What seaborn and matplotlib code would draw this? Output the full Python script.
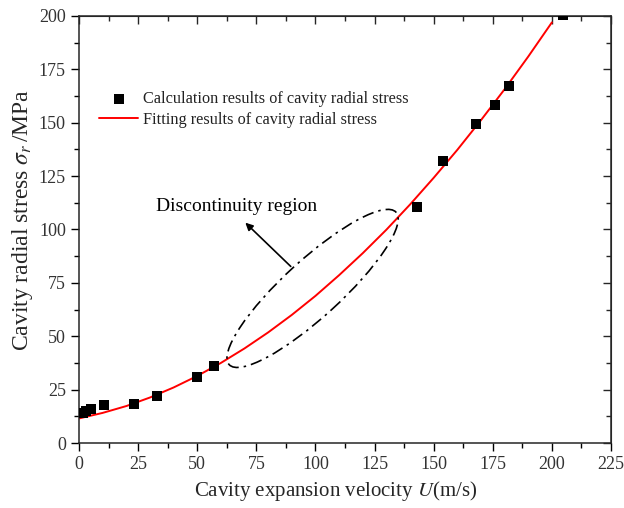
import numpy as np
import pandas as pd
import matplotlib
matplotlib.use("Agg")
import matplotlib.pyplot as plt
import seaborn as sns
from matplotlib.patches import Ellipse
from matplotlib.transforms import ScaledTranslation
from matplotlib.ticker import MultipleLocator

# ---- data ----
calc_u = [1.5, 3.0, 4.9, 10.7, 23.1, 33.0, 49.9, 57.0, 143.1, 153.8, 168.1, 176.1, 181.9, 204.9]
calc_s = [14.0, 15.0, 15.8, 17.8, 18.1, 22.0, 30.8, 36.1, 110.4, 132.2, 149.3, 158.5, 167.3, 200.5]

fit_u = [0, 10, 20, 30, 40, 50, 60, 70, 80, 90, 100, 110, 120, 130, 140, 150, 160, 170, 180, 190, 200]
fit_s = [11.5, 14.1, 17.3, 21.3, 26.0, 31.4, 37.5, 44.3, 51.8, 60.0, 68.9, 78.6, 88.9, 99.9,
         111.7, 124.2, 137.3, 151.2, 165.7, 181.0, 197.0]

x_ticks = [0, 25, 50, 75, 100, 125, 150, 175, 200, 225]
y_ticks = [0, 25, 50, 75, 100, 125, 150, 175, 200]

label_calc = "Calculation results of cavity radial stress"
label_fit = "Fitting results of cavity radial stress"
annot_text = "Discontinuity region"

sns.set_style("ticks")
plt.rcParams["font.family"] = ["Liberation Serif", "DejaVu Serif"]
plt.rcParams["mathtext.fontset"] = "stix"

df_calc = pd.DataFrame({"U": calc_u, "S": calc_s})
df_fit = pd.DataFrame({"U": fit_u, "S": fit_s})

fig = plt.figure(figsize=(6.24, 5.08), dpi=100)
ax = fig.add_axes([79 / 624, 1 - 443 / 508, (611 - 79) / 624, (443 - 16) / 508])

sns.scatterplot(data=df_calc, x="U", y="S", marker="s", s=50, color="black",
                edgecolor="black", linewidth=0, ax=ax, label=label_calc, zorder=3)
sns.lineplot(data=df_fit, x="U", y="S", color="red", linewidth=1.4, ax=ax,
             label=label_fit, zorder=2)

ax.set_xlim(0, 225)
ax.set_ylim(0, 200)
ax.set_xticks(x_ticks)
ax.set_yticks(y_ticks)
ax.xaxis.set_minor_locator(MultipleLocator(12.5))
ax.yaxis.set_minor_locator(MultipleLocator(12.5))
ax.tick_params(which="major", direction="out", length=6, width=1.0, labelsize=13,
               labelcolor="#333333", color="black")
ax.tick_params(which="minor", direction="out", length=3.5, width=1.0, color="black")
for sp in ax.spines.values():
    sp.set_visible(True)
    sp.set_linewidth(1.1)

top = ax.secondary_xaxis("top")
top.set_xticks(x_ticks)
top.xaxis.set_minor_locator(MultipleLocator(12.5))
top.tick_params(which="major", direction="in", length=6, width=1.0, labeltop=False)
top.tick_params(which="minor", direction="in", length=3.5, width=1.0)
right = ax.secondary_yaxis("right")
right.set_yticks(y_ticks)
right.yaxis.set_minor_locator(MultipleLocator(12.5))
right.tick_params(which="major", direction="in", length=6, width=1.0, labelright=False)
right.tick_params(which="minor", direction="in", length=3.5, width=1.0)

ax.set_xlabel(r"Cavity expansion velocity $U$(m/s)", fontsize=15)
ax.xaxis.set_label_coords(0.483, -0.112)
ax.xaxis.label.set_va("center")
ax.set_ylabel(r"Cavity radial stress $\sigma_r\,$/MPa", fontsize=17)
ax.yaxis.set_label_coords(-0.107, 0.522)
ax.yaxis.label.set_va("center")

leg = ax.legend(loc="upper left", bbox_to_anchor=(0.038, 0.824), frameon=False,
                fontsize=11.7, handlelength=2.4, handletextpad=0.3, labelspacing=0.3,
                borderaxespad=0, borderpad=0)
for t in leg.get_texts():
    t.set_color("#222222")

# dash-dot ellipse around the discontinuity region
ell_tr = fig.dpi_scale_trans + ScaledTranslation(98.8, 72.4, ax.transData)
ell = Ellipse((0, 0), width=2.26, height=0.57, angle=42.4, fill=False,
              edgecolor="black", linewidth=1.2, linestyle=(0, (7, 3, 1.5, 3)),
              transform=ell_tr, zorder=4)
ax.add_patch(ell)

ax.annotate("", xy=(69.5, 104.1), xytext=(90.4, 81.8),
            arrowprops=dict(arrowstyle="-|>", color="black", lw=1.2, mutation_scale=11))
ax.text(32.6, 111, annot_text, fontsize=14, ha="left", va="center", color="black")

fig.savefig("out.png", dpi=100)
